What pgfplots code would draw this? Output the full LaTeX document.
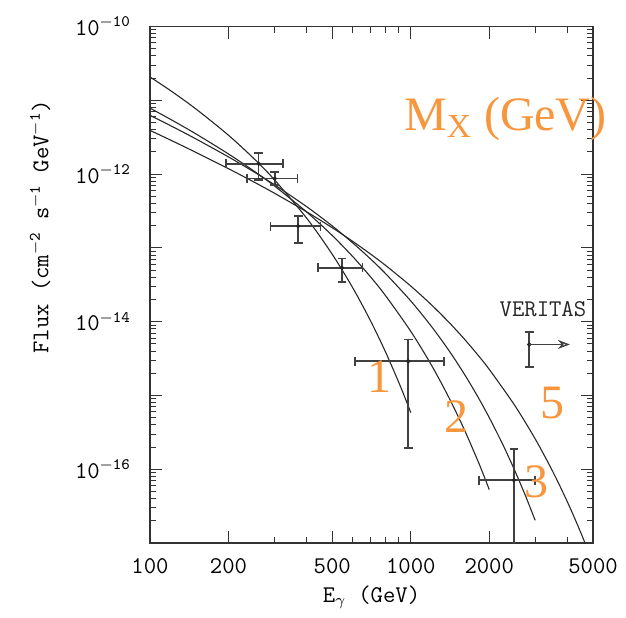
\documentclass[border=0pt]{standalone}
\usepackage{fontspec}
\usepackage{pgfplots}
\pgfplotsset{compat=1.18}
\usetikzlibrary{arrows.meta}
\newfontfamily\orfont{Liberation Serif}
\definecolor{orng}{RGB}{247,150,60}
\definecolor{crv}{RGB}{40,40,40}
\begin{document}
\begin{tikzpicture}
\begin{axis}[
  scale only axis, width=221.5pt, height=258.25pt,
  xmode=log, ymode=log,
  xmin=100, xmax=5000, ymin=1e-17, ymax=1e-10,
  clip mode=individual,
  xtick={100,200,500,1000,2000,5000},
  xticklabels={100,200,500,1000,2000,5000},
  minor xtick={300,400,600,700,800,900,3000,4000},
  ytick={1e-17,1e-16,1e-15,1e-14,1e-13,1e-12,1e-11,1e-10},
  yticklabels={,10\textsuperscript{$-$16},,10\textsuperscript{$-$14},,10\textsuperscript{$-$12},,10\textsuperscript{$-$10}},
  tick align=inside,
  major tick length=6pt, minor tick length=3pt,
  tick style={black!80, line width=0.5pt},
  axis line style={black!80, line width=0.6pt},
  tick label style={font=\ttfamily\fontsize{12}{14}\selectfont},
  xticklabel shift=4pt, yticklabel shift=6pt,
  xlabel={E$_\gamma$~(GeV)},
  ylabel={Flux (cm\textsuperscript{$-$2} s\textsuperscript{$-$1} GeV\textsuperscript{$-$1})},
  label style={font=\ttfamily\fontsize{12}{14}\selectfont},
  xlabel style={at={(rel axis cs:0.5,-0.105)}, anchor=center},
  ylabel style={at={(rel axis cs:-0.248,0.612)}, anchor=center},
]
% model curves, M_X = 1, 2, 3, 5 TeV
\addplot[crv, line width=0.55pt, smooth] table {
x y
100 2.07e-11
120 1.349e-11
150 7.63e-12
200 3.36e-12
250 1.626e-12
300 8.377e-13
400 2.493e-13
500 8.18e-14
600 2.852e-14
700 1.038e-14
800 3.894e-15
900 1.496e-15
950 9.34e-16
1000 5.853e-16
};
\addplot[crv, line width=0.55pt, smooth] table {
x y
100 7.83e-12
120 5.508e-12
150 3.505e-12
200 1.874e-12
250 1.103e-12
300 6.907e-13
400 3.036e-13
500 1.471e-13
600 7.577e-14
700 4.072e-14
800 2.256e-14
1000 7.398e-15
1200 2.58e-15
1400 9.39e-16
1600 3.522e-16
1800 1.353e-16
1900 8.45e-17
2000 5.297e-17
};
\addplot[crv, line width=0.55pt, smooth] table {
x y
100 6.266e-12
120 4.525e-12
150 2.995e-12
200 1.708e-12
250 1.074e-12
300 7.172e-13
400 3.59e-13
500 1.982e-13
600 1.162e-13
700 7.11e-14
800 4.488e-14
1000 1.91e-14
1200 8.63e-15
1400 4.074e-15
1600 1.982e-15
1800 9.876e-16
2000 5.012e-16
2250 2.194e-16
2500 9.776e-17
2750 4.422e-17
3000 2.027e-17
};
\addplot[crv, line width=0.55pt, smooth] table {
x y
100 3.911e-12
120 2.884e-12
150 1.968e-12
200 1.183e-12
250 7.83e-13
300 5.508e-13
400 3.061e-13
500 1.875e-13
600 1.22e-13
700 8.28e-14
800 5.8e-14
1000 3.038e-14
1200 1.692e-14
1400 9.824e-15
1600 5.888e-15
1800 3.61e-15
2000 2.257e-15
2500 7.4e-16
3000 2.581e-16
3500 9.39e-17
4000 3.523e-17
4500 1.353e-17
5000 5.3e-18
};
% data points
\addplot[only marks, mark=*, mark size=0.9pt, black!85,
  error bars/.cd, x dir=both, x explicit, y dir=both, y explicit,
  error bar style={line width=0.8pt, black!75},
  error mark options={rotate=90, mark size=2.2pt, line width=0.8pt, black!75}]
  table[x=x, y=y, x error plus=xp, x error minus=xm, y error plus=yp, y error minus=ym] {
x y xp xm yp ym
261 1.38e-12 63 65 0.56e-12 0.55e-12
301 8.7e-13 67 66 0.20e-12 0.16e-12
370 1.97e-13 81 80 0.72e-13 0.80e-13
545 5.37e-14 107 103 1.83e-14 1.90e-14
978 2.91e-15 366 367 2.83e-15 2.715e-15
2487 7.1e-17 507 656 1.16e-16 7.0e-17
};
% VERITAS limit
\addplot[only marks, mark=*, mark size=0.9pt, black!85,
  error bars/.cd, y dir=both, y explicit,
  error bar style={line width=0.8pt, black!75},
  error mark options={rotate=90, mark size=2.2pt, line width=0.8pt, black!75}]
  table[x=x, y=y, y error plus=yp, y error minus=ym] {
x y yp ym
2848 4.91e-15 2.36e-15 2.47e-15
};
\addplot[black!75, line width=0.7pt, -{Stealth[open, length=6pt, width=4.5pt]}] coordinates {(2848,4.91e-15) (4077,4.91e-15)};
\node[font=\ttfamily\fontsize{12}{14}\selectfont, text=black!85] at (rel axis cs:0.887,0.453) {VERITAS};
\node[text=orng, font=\orfont\fontsize{24}{28}\selectfont, anchor=base west] at (rel axis cs:0.5576,0.7996) {M\textsubscript{X} (GeV)};
\node[text=orng, font=\orfont\fontsize{24}{28}\selectfont] at (rel axis cs:0.519,0.322) {1};
\node[text=orng, font=\orfont\fontsize{24}{28}\selectfont] at (rel axis cs:0.692,0.2445) {2};
\node[text=orng, font=\orfont\fontsize{24}{28}\selectfont] at (rel axis cs:0.873,0.1187) {3};
\node[text=orng, font=\orfont\fontsize{24}{28}\selectfont] at (rel axis cs:0.909,0.2705) {5};
\coordinate (bl) at (rel axis cs:-0.3386,-0.1452);
\coordinate (tr) at (rel axis cs:1.0745,1.0513);
\end{axis}
\path (bl) rectangle (tr);
\end{tikzpicture}
\end{document}
